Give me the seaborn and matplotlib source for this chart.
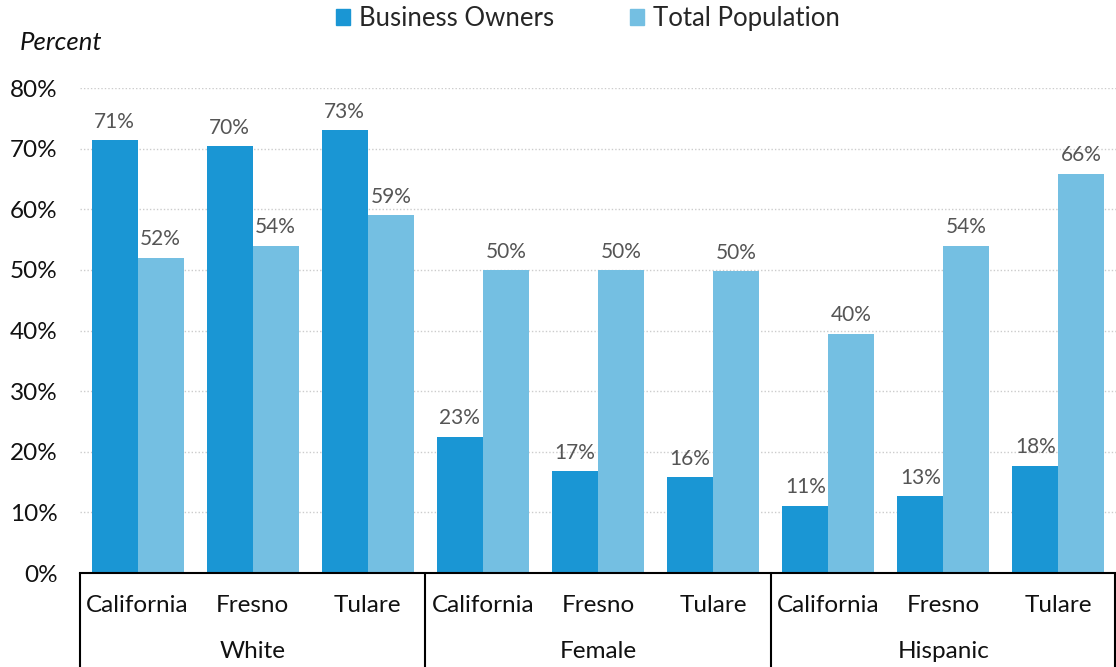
import matplotlib
matplotlib.use("Agg")
import matplotlib.pyplot as plt
import matplotlib.transforms as mtransforms
import seaborn as sns
import pandas as pd

# chart data
places = ["California", "Fresno", "Tulare"]
groups = ["White", "Female", "Hispanic"]
business_owners = [71.4, 70.4, 73.1, 22.5, 16.8, 15.8, 11.1, 12.7, 17.7]
total_population = [52.0, 54.0, 59.0, 50.0, 50.0, 49.8, 39.5, 54.0, 65.9]
labels_bo = ["71%", "70%", "73%", "23%", "17%", "16%", "11%", "13%", "18%"]
labels_tp = ["52%", "54%", "59%", "50%", "50%", "50%", "40%", "54%", "66%"]

cats = [f"{g}|{p}" for g in groups for p in places]
df = pd.DataFrame({
    "cat": cats * 2,
    "value": business_owners + total_population,
    "series": ["Business Owners"] * 9 + ["Total Population"] * 9,
})

sns.set_style("white")
plt.rcParams["font.family"] = ["Lato", "DejaVu Sans"]

fig = plt.figure(figsize=(11.16, 6.67), dpi=100)
ax = fig.add_axes([0.0717, 0.1409, 0.9283, 0.7271])

colors = ["#1A96D4", "#74BFE2"]
sns.barplot(data=df, x="cat", y="value", hue="series", palette=colors,
            width=0.8, saturation=1, linewidth=0, ax=ax, legend=False)

for container, labs in zip(ax.containers, [labels_bo, labels_tp]):
    ax.bar_label(container, labels=labs, padding=6, fontsize=15, color="#555555")

ax.set_ylim(0, 80)
ax.set_xlim(-0.5, 8.5)
ax.set_yticks(range(0, 81, 10))
ax.set_yticklabels([f"{v}%" for v in range(0, 81, 10)], fontsize=17.5, color="#111111")
ax.yaxis.grid(True, linestyle=(0, (1, 1.5)), color="#cccccc", linewidth=1)
ax.set_axisbelow(True)
for s in ["left", "right", "top"]:
    ax.spines[s].set_visible(False)
ax.spines["bottom"].set_color("black")
ax.spines["bottom"].set_linewidth(1.5)
ax.tick_params(axis="y", length=0, pad=16)
ax.tick_params(axis="x", length=0, pad=16)
ax.set_xticks(range(9))
ax.set_xticklabels(places * 3, fontsize=17.5, color="#111111")
ax.set_xlabel("")
ax.set_ylabel("")

trans = mtransforms.blended_transform_factory(ax.transData, ax.transAxes)
for i, g in enumerate(groups):
    ax.text(3 * i + 1, -0.161, g, transform=trans, ha="center", va="center",
            fontsize=17.5, color="#111111")
for b in [-0.5, 2.5, 5.5, 8.5]:
    x = b if b < 8.5 else 8.49
    ax.plot([x, x], [0, -0.2], transform=trans, color="black", lw=1.5,
            clip_on=False)

fig.text(0.018, 0.937, "Percent", fontsize=18.5, style="italic", color="#111111",
         va="center")

handles = [plt.Rectangle((0, 0), 1, 1, color=c) for c in colors]
fig.legend(handles, ["Business Owners", "Total Population"], loc="center",
           bbox_to_anchor=(0.527, 0.972), ncol=2, frameon=False, fontsize=18.5,
           handlelength=0.55, handleheight=0.55, handletextpad=0.35,
           columnspacing=2.95)

fig.savefig("out.png", dpi=100)
